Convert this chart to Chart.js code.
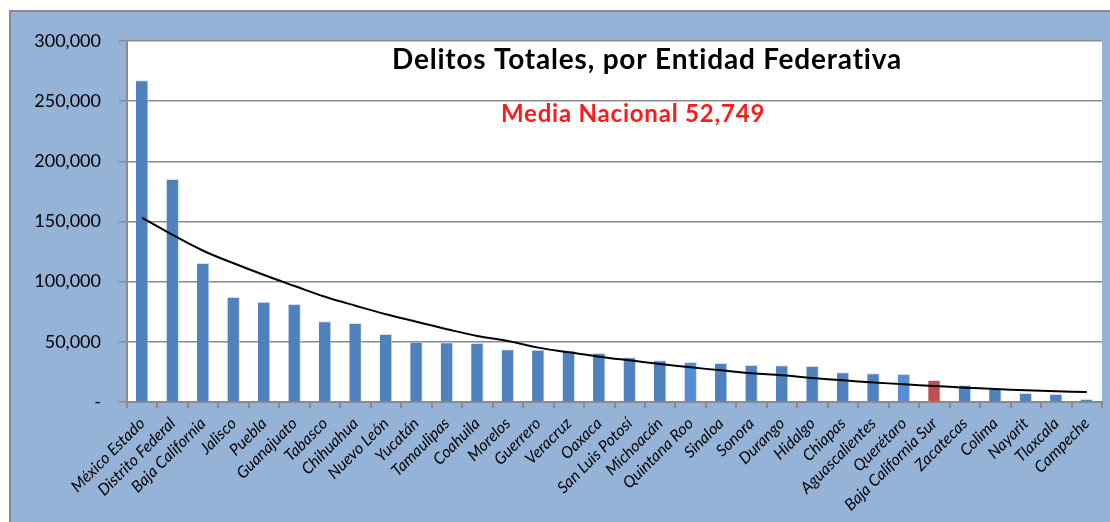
<!DOCTYPE html>
<html>
<head>
<meta charset="utf-8">
<script src="https://cdn.jsdelivr.net/npm/chart.js@4/dist/chart.umd.min.js"></script>
<style>
  html, body { margin: 0; padding: 0; background: #fff; }
  #wrap { width: 1110px; height: 522px; }
</style>
</head>
<body>
<div id="wrap"><canvas id="myChart" width="1110" height="522"></canvas></div>
<script>
// entidades, ordenadas de mayor a menor
const estados = [
  'México Estado', 'Distrito Federal', 'Baja California', 'Jalisco', 'Puebla',
  'Guanajuato', 'Tabasco', 'Chihuahua', 'Nuevo León', 'Yucatán', 'Tamaulipas',
  'Coahuila', 'Morelos', 'Guerrero', 'Veracruz', 'Oaxaca', 'San Luis Potosí',
  'Michoacán', 'Quintana Roo', 'Sinaloa', 'Sonora', 'Durango', 'Hidalgo',
  'Chiapas', 'Aguascalientes', 'Querétaro', 'Baja California Sur', 'Zacatecas',
  'Colima', 'Nayarit', 'Tlaxcala', 'Campeche'
];
const delitos = [
  267300, 185300, 115500, 87300, 83400, 81400, 67100, 65700, 56500, 50100, 49600,
  49000, 43800, 43500, 42700, 40700, 37100, 34600, 33200, 32400, 30800, 30500,
  29900, 24700, 23800, 23300, 18300, 14100, 11400, 7500, 6700, 2500
];
// linea de tendencia
const tendencia = [
  153000, 138800, 125700, 115300, 105500, 96400, 87500, 80000, 72900, 66700, 60500,
  54900, 50700, 45200, 41300, 37700, 34600, 31600, 28800, 26300, 23800, 22200,
  19900, 18000, 16300, 14700, 13300, 11900, 10800, 9700, 8900, 8300
];
const titulo = 'Delitos Totales, por Entidad Federativa';
const subtitulo = 'Media Nacional 52,749';

const destacados = {
  'Quintana Roo': '#558ED5',
  'Querétaro': '#558ED5',
  'Baja California Sur': '#C0504D'
};
const barColors = estados.map(e => destacados[e] || '#4F81BD');

const fondo = {
  id: 'fondo',
  beforeDraw(chart) {
    const { ctx, chartArea: a } = chart;
    ctx.save();
    ctx.fillStyle = '#fff';
    ctx.fillRect(0, 0, chart.width, chart.height);
    ctx.fillStyle = '#95B3D7';
    ctx.fillRect(10, 11, chart.width - 10, chart.height - 11);
    ctx.strokeStyle = '#8a8a8a';
    ctx.lineWidth = 2;
    ctx.beginPath();
    ctx.moveTo(10, chart.height);
    ctx.lineTo(10, 11);
    ctx.lineTo(chart.width, 11);
    ctx.stroke();
    ctx.fillStyle = '#fff';
    ctx.fillRect(a.left, a.top, a.right - a.left, a.bottom - a.top);
    ctx.restore();
  },
  afterDraw(chart) {
    const { ctx, chartArea: a } = chart;
    ctx.save();
    ctx.textAlign = 'center';
    ctx.textBaseline = 'middle';
    ctx.fillStyle = '#000';
    ctx.font = 'bold 28px Lato';
    ctx.letterSpacing = '0.8px';
    ctx.fillText(titulo, a.left + 520, a.top + 19);
    ctx.fillStyle = '#FF1A1A';
    ctx.font = 'bold 24px Lato';
    ctx.letterSpacing = '0.8px';
    ctx.fillText(subtitulo, a.left + 506, a.top + 73);
    ctx.restore();
  }
};

const ctx = document.getElementById('myChart').getContext('2d');
new Chart(ctx, {
  type: 'bar',
  data: {
    labels: estados,
    datasets: [
      {
        type: 'line',
        data: tendencia,
        borderColor: '#000',
        borderWidth: 2,
        pointRadius: 0,
        tension: 0.4,
        fill: false,
        order: 0
      },
      {
        data: delitos,
        backgroundColor: barColors,
        borderColor: 'rgba(200,215,235,0.8)',
        borderWidth: { top: 1, right: 1, left: 0, bottom: 0 },
        barPercentage: 0.41,
        categoryPercentage: 1,
        order: 1
      }
    ]
  },
  options: {
    responsive: false,
    animation: false,
    layout: { padding: { left: 0, top: 41, right: 8, bottom: 0 } },
    plugins: {
      legend: { display: false },
      tooltip: { enabled: false }
    },
    scales: {
      x: {
        afterFit: s => { s.height = 120; },
        grid: { drawOnChartArea: false, drawTicks: true, tickLength: 6, color: '#8a8a8a', lineWidth: 2 },
        border: { display: true, color: '#8a8a8a', width: 2 },
        ticks: {
          autoSkip: false,
          minRotation: 45,
          maxRotation: 45,
          padding: 6,
          color: '#000',
          font: { family: 'Lato', size: 16, style: 'italic' }
        }
      },
      y: {
        min: 0,
        max: 300000,
        afterFit: s => { s.width = 127; },
        grid: { color: '#8a8a8a', lineWidth: 1.5, tickLength: 8 },
        border: { display: true, color: '#8a8a8a', width: 2 },
        ticks: {
          stepSize: 50000,
          padding: 18,
          color: '#000',
          font: { family: 'Lato', size: 18 },
          callback: v => v === 0 ? '-' : v.toLocaleString('en-US')
        }
      }
    }
  },
  plugins: [fondo]
});
</script>
</body>
</html>
